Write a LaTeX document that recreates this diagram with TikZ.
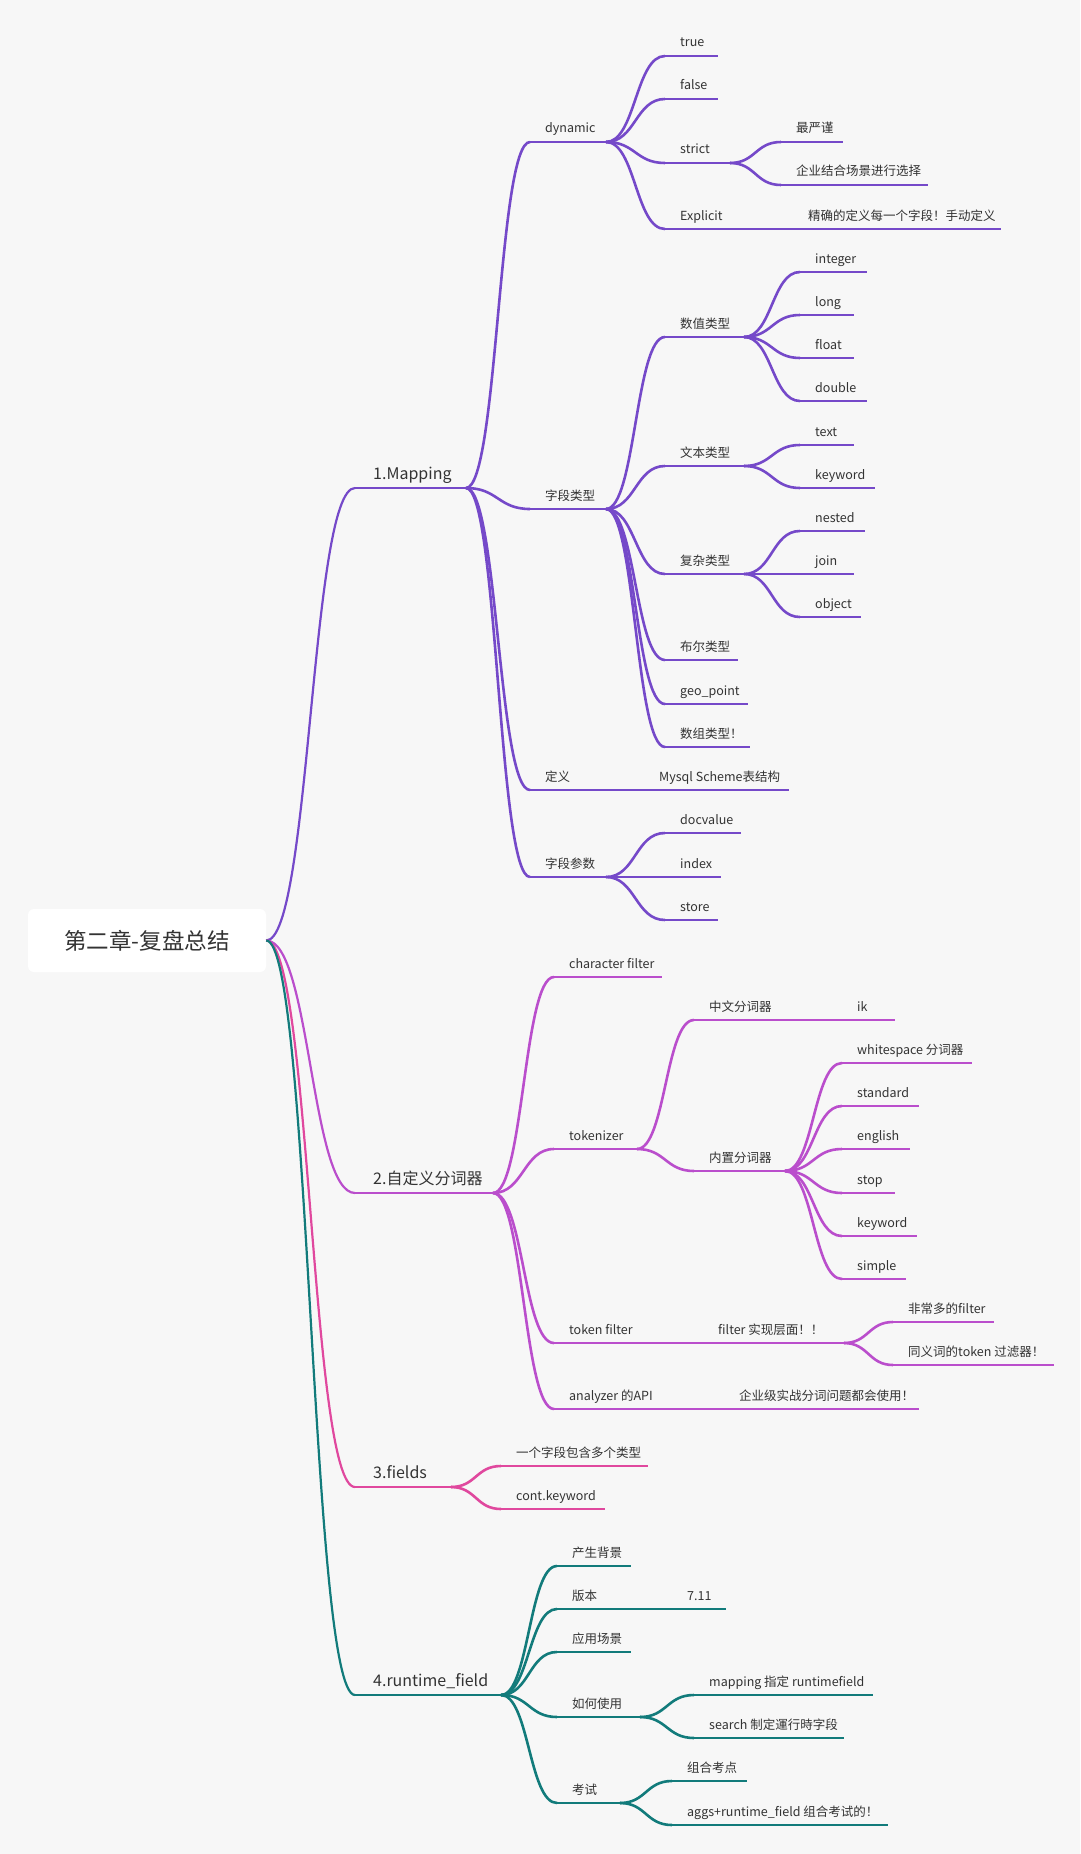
\documentclass[tikz,border=0pt]{standalone}
\usepackage{fontspec}
\setmainfont{Noto Sans CJK SC}
\usetikzlibrary{calc}
\definecolor{bgcol}{HTML}{F7F7F7}
\definecolor{ink}{HTML}{333333}
\definecolor{mapcol}{HTML}{7549C9}
\definecolor{anacol}{HTML}{BA4ECC}
\definecolor{fldcol}{HTML}{E0489E}
\definecolor{rtcol}{HTML}{127B7B}

\tikzset{
  branch/.style={to path={.. controls ($(\tikztostart)!0.5!(\tikztotarget|-\tikztostart)$)
      and ($(\tikztotarget)!0.5!(\tikztostart|-\tikztotarget)$) .. (\tikztotarget)}},
  bar/.style={anchor=west, fill=#1, minimum height=2.6pt, inner sep=0pt, outer sep=0pt},
  link/.style={draw=#1, line width=2.6pt},
  leaf/.style={anchor=base west, inner sep=0pt, text=ink, font=\fontsize{12.5}{15}\selectfont},
  sect/.style={anchor=base west, inner sep=0pt, text=ink, font=\fontsize{16}{20}\selectfont},
  rootbox/.style={fill=white, rounded corners=6pt, minimum width=238pt, minimum height=63pt,
      inner sep=0pt, text=ink, font=\fontsize{22.5}{26}\selectfont}
}

\begin{document}
\begin{tikzpicture}[x=1pt, y=-1pt]
  \fill[bgcol] (0,0) rectangle (1080,1854);

  % central topic
  \node[rootbox] (root) at (147,940.5) {第二章-复盘总结};

  % main sections
  \foreach \n/\xb/\y/\c/\lbl in {map/466/488/mapcol/1.Mapping,
      ana/493/1193/anacol/2.自定义分词器,
      fld/451/1487/fldcol/3.fields,
      rt/501/1695/rtcol/4.runtime\_field} {
    \draw[link=\c, line width=2.2pt] (root.east) to[branch] (355,\y);
    \node[bar=\c, minimum width={(\xb-355)*1pt}] (\n) at (355,\y) {};
    \node[sect] (\n-t) at ([shift={(18pt,9pt)}]\n.west) {\lbl};
  }

  % 1.Mapping
  \foreach \n/\p/\xa/\xb/\y/\lbl in {dyn/map/530/606/142/dynamic,
      true/dyn/665/718/56/true,
      false/dyn/665/718/99/false,
      strict/dyn/665/730/163/strict,
      strA/strict/781/843/142/最严谨,
      strB/strict/781/928/185/企业结合场景进行选择,
      expl/dyn/665/740/229/Explicit,
      explA/expl/793/1001/229/精确的定义每一个字段！手动定义,
      ftype/map/530/606/509/字段类型,
      num/ftype/665/744/337/数值类型,
      int/num/800/867/272/integer,
      long/num/800/854/315/long,
      float/num/800/854/358/float,
      double/num/800/867/401/double,
      txt/ftype/665/744/466/文本类型,
      text/txt/800/854/445/text,
      kwd/txt/800/875/488/keyword,
      cplx/ftype/665/744/574/复杂类型,
      nested/cplx/800/865/531/nested,
      join/cplx/800/854/574/join,
      object/cplx/800/861/617/object,
      bool/ftype/665/738/660/布尔类型,
      geo/ftype/665/748/704/geo\_point,
      arr/ftype/665/750/747/数组类型！,
      def/map/530/590/790/定义,
      mysql/def/644/789/790/Mysql Scheme表结构,
      fpar/map/530/606/877/字段参数,
      docv/fpar/665/741/833/docvalue,
      index/fpar/665/721/877/index,
      store/fpar/665/718/920/store} {
    \node[bar=mapcol, minimum width={(\xb-\xa)*1pt}] (\n) at (\xa,\y) {};
    \node[leaf] (\n-t) at ([shift={(15pt,9pt)}]\n.west) {\lbl};
    \draw[link=mapcol] (\p.east) to[branch] (\n.west);
  }

  % 2.analyzer
  \foreach \n/\p/\xa/\xb/\y/\lbl in {cf/ana/554/662/977/character filter,
      tok/ana/554/637/1149/tokenizer,
      zh/tok/694/785/1020/中文分词器,
      ik/zh/842/895/1020/ik,
      bi/tok/694/785/1171/内置分词器,
      ws/bi/842/972/1063/whitespace 分词器,
      std/bi/842/919/1106/standard,
      eng/bi/842/910/1149/english,
      stop/bi/842/895/1193/stop,
      kw/bi/842/917/1236/keyword,
      simple/bi/842/906/1279/simple,
      tf/ana/554/650/1343/token filter,
      tfi/tf/703/844/1343/filter 实现层面！！,
      many/tfi/893/994/1322/非常多的filter,
      syn/tfi/893/1054/1365/同义词的token 过滤器！,
      api/ana/554/665/1409/analyzer 的API,
      apiA/api/724/919/1409/企业级实战分词问题都会使用！} {
    \node[bar=anacol, minimum width={(\xb-\xa)*1pt}] (\n) at (\xa,\y) {};
    \node[leaf] (\n-t) at ([shift={(15pt,9pt)}]\n.west) {\lbl};
    \draw[link=anacol] (\p.east) to[branch] (\n.west);
  }

  % 3.fields
  \foreach \n/\p/\xa/\xb/\y/\lbl in {multi/fld/501/648/1466/一个字段包含多个类型,
      ck/fld/501/605/1509/cont.keyword} {
    \node[bar=fldcol, minimum width={(\xb-\xa)*1pt}] (\n) at (\xa,\y) {};
    \node[leaf] (\n-t) at ([shift={(15pt,9pt)}]\n.west) {\lbl};
    \draw[link=fldcol] (\p.east) to[branch] (\n.west);
  }

  % 4.runtime_field
  \foreach \n/\p/\xa/\xb/\y/\lbl in {bg/rt/557/631/1566/产生背景,
      ver/rt/557/615/1609/版本,
      verA/ver/672/726/1609/7.11,
      scn/rt/557/631/1652/应用场景,
      how/rt/557/640/1717/如何使用,
      howA/how/694/873/1695/mapping 指定 runtimefield,
      howB/how/694/844/1738/search 制定運行時字段,
      exam/rt/557/620/1803/考试,
      exA/exam/672/747/1781/组合考点,
      exB/exam/672/888/1825/aggs+runtime\_field 组合考试的！} {
    \node[bar=rtcol, minimum width={(\xb-\xa)*1pt}] (\n) at (\xa,\y) {};
    \node[leaf] (\n-t) at ([shift={(15pt,9pt)}]\n.west) {\lbl};
    \draw[link=rtcol] (\p.east) to[branch] (\n.west);
  }
\end{tikzpicture}
\end{document}
